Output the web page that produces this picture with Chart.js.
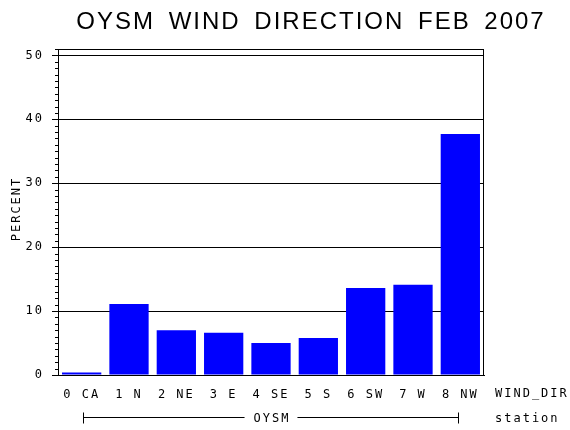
<!DOCTYPE html>
<html lang="en">
<head>
    <meta charset="UTF-8">
    <title>OYSM Wind Direction Feb 2007</title>
    <script src="https://cdn.jsdelivr.net/npm/chart.js"></script>
    <style>
        html, body { margin: 0; padding: 0; background: #fff; }
        #wrap { width: 570px; height: 430px; }
    </style>
</head>
<body>
<div id="wrap"><canvas id="windChart" width="570" height="430"></canvas></div>
<script>
    // Data
    var categories = ['0 CA', '1 N', '2 NE', '3 E', '4 SE', '5 S', '6 SW', '7 W', '8 NW'];
    var percents = [0.4, 11.1, 7.0, 6.6, 5.0, 5.8, 13.6, 14.1, 37.7];
    var yTickValues = [0, 10, 20, 30, 40, 50];
    var yMax = 51;

    var titleText = 'OYSM WIND DIRECTION FEB 2007';
    var yAxisLabel = 'PERCENT';
    var xAxisLabel = 'WIND_DIR';
    var groupLabel = 'OYSM';
    var groupAxisLabel = 'station';

    var monoFont = '"DejaVu Sans Mono", monospace';

    // extra text, box border, minor ticks and the station bracket
    var decorPlugin = {
        id: 'decor',
        beforeDraw: function(chart) {
            chart.ctx.letterSpacing = '2px';
        },
        afterDraw: function(chart) {
            var ctx = chart.ctx;
            var area = chart.chartArea;
            var xs = chart.scales.x;
            var ys = chart.scales.y;
            ctx.save();
            ctx.strokeStyle = '#000';
            ctx.lineWidth = 1;

            // box border
            ctx.strokeRect(area.left + 0.5, area.top + 0.5, area.right - area.left - 1, area.bottom - area.top);

            // minor ticks every 1 percent
            ctx.beginPath();
            for (var v = 1; v <= yMax; v++) {
                if (v % 10 === 0) continue;
                var py = Math.round(ys.getPixelForValue(v)) + 0.5;
                ctx.moveTo(area.left - 3, py);
                ctx.lineTo(area.left, py);
            }
            ctx.stroke();

            ctx.fillStyle = '#000';
            ctx.font = '12px ' + monoFont;
            ctx.letterSpacing = '2px';
            ctx.textBaseline = 'middle';
            ctx.textAlign = 'left';
            ctx.fillText(xAxisLabel, area.right + 11, area.bottom + 19);
            ctx.fillText(groupAxisLabel, area.right + 11, area.bottom + 44);

            // station bracket spanning the categories
            var x0 = Math.round(xs.getPixelForValue(0)) + 1.5;
            var x1 = Math.round(xs.getPixelForValue(categories.length - 1)) - 1.5;
            var by = area.bottom + 42.5;
            var mid = (x0 + x1) / 2;
            ctx.textAlign = 'center';
            var tw = ctx.measureText(groupLabel).width;
            ctx.fillText(groupLabel, mid + 1, by + 1);
            ctx.beginPath();
            ctx.moveTo(x0, by - 5);
            ctx.lineTo(x0, by + 6);
            ctx.moveTo(x0, by);
            ctx.lineTo(mid - tw / 2 - 8, by);
            ctx.moveTo(mid + tw / 2 + 8, by);
            ctx.lineTo(x1, by);
            ctx.moveTo(x1, by - 5);
            ctx.lineTo(x1, by + 6);
            ctx.stroke();

            // y axis title
            ctx.save();
            ctx.translate(17, (area.top + area.bottom) / 2 - 3);
            ctx.rotate(-Math.PI / 2);
            ctx.fillText(yAxisLabel, 0, 0);
            ctx.restore();

            // main title
            ctx.letterSpacing = '2px';
            ctx.wordSpacing = '5px';
            ctx.font = '24px "Liberation Sans", Arial, sans-serif';
            ctx.textAlign = 'center';
            ctx.fillText(titleText, 311, 22);
            ctx.restore();
        }
    };

    var ctx = document.getElementById('windChart').getContext('2d');
    var windChart = new Chart(ctx, {
        type: 'bar',
        data: {
            labels: categories,
            datasets: [{
                label: 'PERCENT',
                data: percents,
                backgroundColor: '#0000ff',
                borderWidth: 0,
                categoryPercentage: 1.0,
                barPercentage: 0.83
            }]
        },
        options: {
            responsive: false,
            animation: false,
            devicePixelRatio: 1,
            layout: { padding: { left: 0, right: 86, top: 49, bottom: 0 } },
            plugins: {
                legend: { display: false },
                title: { display: false },
                tooltip: { enabled: false }
            },
            scales: {
                x: {
                    grid: { display: false, drawTicks: false },
                    border: { display: true, color: '#000', width: 1 },
                    ticks: {
                        color: '#000',
                        font: { family: monoFont, size: 12 },
                        padding: 13,
                        maxRotation: 0,
                        autoSkip: false
                    },
                    afterFit: function(scale) { scale.height = 55; }
                },
                y: {
                    min: 0,
                    max: yMax,
                    afterBuildTicks: function(scale) {
                        scale.ticks = yTickValues.map(function(v) { return { value: v }; });
                    },
                    grid: {
                        color: '#000',
                        lineWidth: 1,
                        drawTicks: true,
                        tickLength: 6,
                        tickColor: '#000'
                    },
                    border: { display: true, color: '#000', width: 1 },
                    ticks: {
                        color: '#000',
                        font: { family: monoFont, size: 12 },
                        padding: 8
                    },
                    afterFit: function(scale) { scale.width = 58; }
                }
            }
        },
        plugins: [decorPlugin]
    });
</script>
</body>
</html>
